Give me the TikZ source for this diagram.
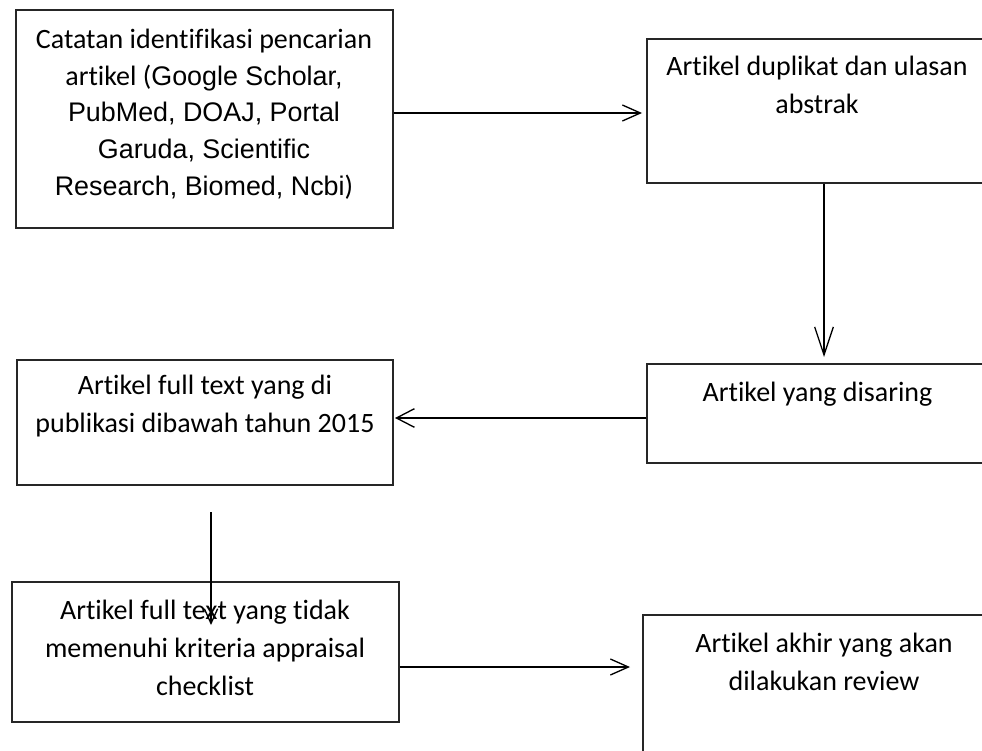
\documentclass[tikz,border=0pt]{standalone}
\usepackage{fontspec}
\setmainfont{Carlito}[Ligatures=NoCommon]
\newfontfamily\arialf{Liberation Sans}[Scale=0.96]
\usetikzlibrary{arrows.meta}
\begin{document}
\begin{tikzpicture}[x=0.75pt,y=-0.75pt,
  box/.style={draw=black!85,line width=1pt,inner sep=0pt,fill=none},
  txt/.style={anchor=base,align=center,inner sep=0pt,font=\fontsize{21}{28.5}\selectfont},
  arr/.style={line width=1pt,draw=black}]
\useasboundingbox (0,0) rectangle (982,750);
\fill[white] (0,0) rectangle (982,750);
\clip (0,0) rectangle (982,750);
% boxes
\node[box,minimum width=282.75pt,minimum height=163.5pt] (b1) at (204.5,119) {};
\node[box,minimum width=257.25pt,minimum height=108pt] (b2) at (818.5,111) {};
\node[box,minimum width=257.25pt,minimum height=74.25pt] (b3) at (818.5,413.5) {};
\node[box,minimum width=282pt,minimum height=93.75pt] (b4) at (205,422.5) {};
\node[box,minimum width=290.25pt,minimum height=105pt] (b5) at (205.5,652) {};
\node[box,minimum width=260.25pt,minimum height=131.25pt] (b6) at (816.5,702.5) {};
% texts (anchor base = last line baseline)
\node[txt,font=\fontsize{21}{27.4}\selectfont] (t1) at (204,195) {Catatan identifikasi pencarian\\artikel ({\arialf Google Scholar,}\\{\arialf PubMed, DOAJ, Portal}\\{\arialf Garuda, Scientific}\\{\arialf Research, Biomed, Ncbi})};
\node[txt] (t2) at (817,113) {Artikel duplikat dan ulasan\\abstrak};
\node[txt] (t3) at (817.5,401) {Artikel yang disaring};
\node[txt] (t4) at (205,432) {Artikel full text yang di\\publikasi dibawah tahun 2015};
\node[txt] (t5) at (205,695) {Artikel full text yang tidak\\memenuhi kriteria appraisal\\checklist};
\node[txt] (t6) at (824,690) {Artikel akhir yang akan\\dilakukan review};
% arrow ends
\coordinate (a1e) at (642,113);
\coordinate (a2e) at (824,357);
\coordinate (a3e) at (395,418);
\coordinate (a4s) at (211,512);
\coordinate (a4e) at (211,625);
\coordinate (a5e) at (630,667);
% connectors
\draw[arr,-{Straight Barb[length=13.5pt,width=12pt]}] (b1.east |- a1e) -- (a1e);
\draw[arr,-{Straight Barb[length=21pt,width=14pt]}] (b2.south -| a2e) -- (a2e);
\draw[arr,-{Straight Barb[length=13.5pt,width=14pt]}] (b3.west |- a3e) -- (a3e);
\draw[arr,-{Straight Barb[length=11pt,width=10pt]}] (a4s) -- (a4e);
\draw[arr,-{Straight Barb[length=13.5pt,width=12pt]}] (b5.east |- a5e) -- (a5e);
\end{tikzpicture}
\end{document}
